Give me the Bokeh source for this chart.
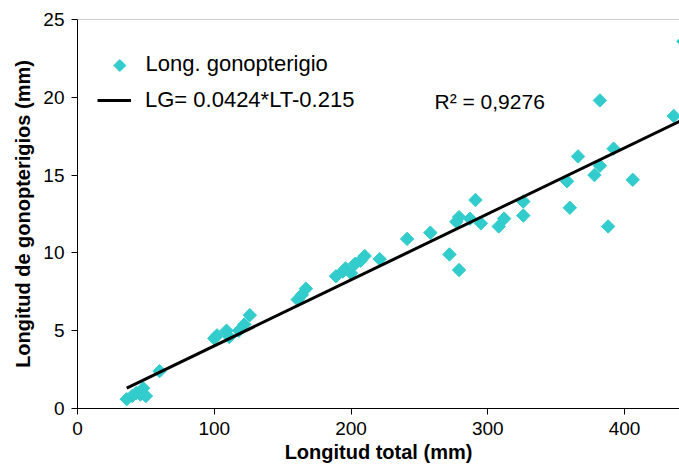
import math
from bokeh.plotting import figure
from bokeh.models import Range1d, FixedTicker, Span, Label, Legend, LegendItem
from bokeh.embed import file_html
from bokeh.resources import INLINE

# ---- data ----
lt = [36, 40, 43, 46, 48, 50, 60,
      100, 102, 109, 111, 118, 122, 126,
      161, 164, 167,
      189, 194, 196, 200, 203, 207, 210, 221,
      241, 258, 272, 277, 279, 279, 287, 291, 295, 308, 312, 326, 326,
      358, 360, 366, 378, 382, 382, 388, 392, 406, 436, 443]
lg = [0.6, 0.8, 1.0, 0.9, 1.3, 0.8, 2.4,
      4.5, 4.7, 5.0, 4.6, 5.0, 5.4, 6.0,
      7.0, 7.3, 7.7,
      8.5, 8.8, 9.0, 8.7, 9.3, 9.5, 9.8, 9.6,
      10.9, 11.3, 9.9, 12.0, 12.3, 8.9, 12.2, 13.4, 11.9, 11.7, 12.2, 13.3, 12.4,
      14.6, 12.9, 16.2, 15.0, 15.6, 19.8, 11.7, 16.7, 14.7, 18.8, 23.6]
slope = 0.0424
intercept = -0.215
r2_text = "R² = 0,9276"
series_label = "Long. gonopterigio"
fit_label = "LG= 0.0424*LT-0.215"
x_ticks = [0, 100, 200, 300, 400]
y_ticks = [0, 5, 10, 15, 20, 25]

FONT = "Liberation Sans"
TURQ = "#33CCCC"

p = figure(width=679, height=472, output_backend="svg", toolbar_location=None,
           x_range=Range1d(0, 440.2), y_range=Range1d(0, 25),
           min_border_left=77, min_border_right=0, min_border_top=19,
           min_border_bottom=64)
p.outline_line_color = None
p.xgrid.visible = False
p.ygrid.visible = False
p.background_fill_color = "white"
p.border_fill_color = "white"

pts = p.scatter(lt, lg, marker="square", angle=math.pi / 4, size=9.5,
                fill_color=TURQ, line_color=TURQ)

x_fit = [min(lt), max(lt)]
y_fit = [slope * v + intercept for v in x_fit]
fit = p.line(x_fit, y_fit, line_color="black", line_width=3)

p.add_layout(Span(location=25, dimension="width", line_color="#9a9a9a", line_width=1))

for ax, ticks in ((p.xaxis[0], x_ticks), (p.yaxis[0], y_ticks)):
    ax.ticker = FixedTicker(ticks=ticks)
    ax.minor_tick_line_color = None
    ax.major_tick_in = 0
    ax.major_tick_out = 6
    ax.axis_line_color = "black"
    ax.major_tick_line_color = "black"
    ax.major_label_text_font = FONT
    ax.major_label_text_font_size = "19px"
    ax.major_label_text_color = "black"
    ax.axis_label_text_font = FONT
    ax.axis_label_text_font_size = "20px"
    ax.axis_label_text_font_style = "bold"
    ax.axis_label_text_color = "black"
    ax.major_label_standoff = 7

p.xaxis.axis_label = "Longitud total (mm)"
p.yaxis.axis_label = "Longitud de gonopterigios (mm)"
p.xaxis.axis_label_standoff = 3
p.yaxis.axis_label_standoff = 6

# legend: line item via Legend, series item drawn as a diamond symbol + label
legend = Legend(items=[LegendItem(label=fit_label, renderers=[fit])],
                location=(20, 295), orientation="vertical")
legend.background_fill_alpha = 0
legend.border_line_color = None
legend.padding = 0
legend.margin = 0
legend.glyph_width = 34
legend.glyph_height = 24
legend.label_height = 24
legend.label_standoff = 14
legend.label_text_font = FONT
legend.label_text_font_size = "22px"
legend.label_text_color = "black"
p.add_layout(legend)

p.add_layout(Label(x=42, y=345, x_units="screen", y_units="screen", text="\u25c6",
                   text_font="DejaVu Sans", text_font_size="17px",
                   text_align="center", text_baseline="middle", text_color=TURQ))
p.add_layout(Label(x=68, y=345, x_units="screen", y_units="screen", text=series_label,
                   text_font=FONT, text_font_size="22px", text_baseline="middle",
                   text_color="black"))

p.add_layout(Label(x=357, y=307, x_units="screen", y_units="screen", text=r2_text,
                   text_font=FONT, text_font_size="21px", text_baseline="middle",
                   text_color="black"))

open("out.html", "w").write(file_html(p, INLINE))
